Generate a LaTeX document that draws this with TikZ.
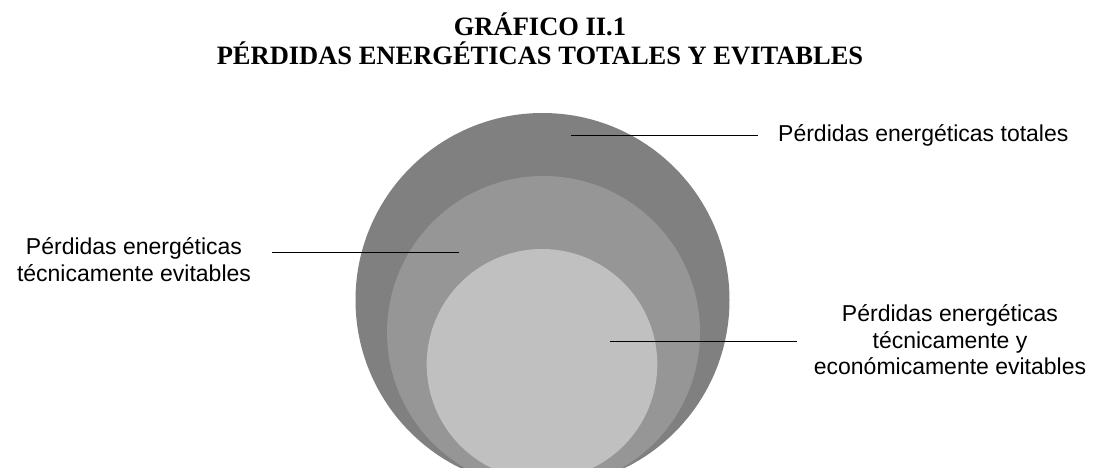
\documentclass[tikz,border=0pt]{standalone}
\usepackage{fontspec}
\setmainfont{Liberation Serif}
\newfontfamily\lblfont{Liberation Sans}
\definecolor{outergray}{HTML}{808080}
\definecolor{midgray}{HTML}{969696}
\definecolor{innergray}{HTML}{C0C0C0}
\tikzset{
  disc/.style={circle, inner sep=0pt, draw=none},
  titlefont/.style={font=\fontsize{26.5}{30}\selectfont\bfseries, inner sep=0pt},
  lbl/.style={font=\lblfont\fontsize{23}{26.5}\selectfont, inner sep=0pt, align=center},
  leader/.style={draw=black, line width=0.8pt}
}
\begin{document}
\begin{tikzpicture}[x=1pt,y=-1pt]
\useasboundingbox (0,0) rectangle (1096,468);
\clip (0,0) rectangle (1096,468);
% title
\node[titlefont, anchor=base] (t1) at (540,36) {GRÁFICO II.1};
\node[titlefont, anchor=base] (t2) at (540,65) {PÉRDIDAS ENERGÉTICAS TOTALES Y EVITABLES};
% nested discs
\node[disc, fill=outergray, minimum size=374pt] (outer) at (542.5,300) {};
\node[disc, fill=midgray, minimum size=313pt] (middle) at (543.5,332.5) {};
\node[disc, fill=innergray, minimum size=230.6pt] (inner) at (542,364.3) {};
% labels
\node[lbl, anchor=base west] (ltot) at (778,142) {Pérdidas energéticas totales};
\node[lbl] (ltec) at (134,259.5) {Pérdidas energéticas\\técnicamente evitables};
\node[lbl] (leco) at (950,340) {Pérdidas energéticas\\técnicamente y\\económicamente evitables};
% leader end points
\coordinate (a1) at (571,135);
\coordinate (b1) at (758,135);
\coordinate (a2) at (459,252);
\coordinate (b2) at (272,252);
\coordinate (a3) at (610,341);
\coordinate (b3) at (797,341);
\draw[leader] (a1) -- (b1);
\draw[leader] (a2) -- (b2);
\draw[leader] (a3) -- (b3);
\end{tikzpicture}
\end{document}
